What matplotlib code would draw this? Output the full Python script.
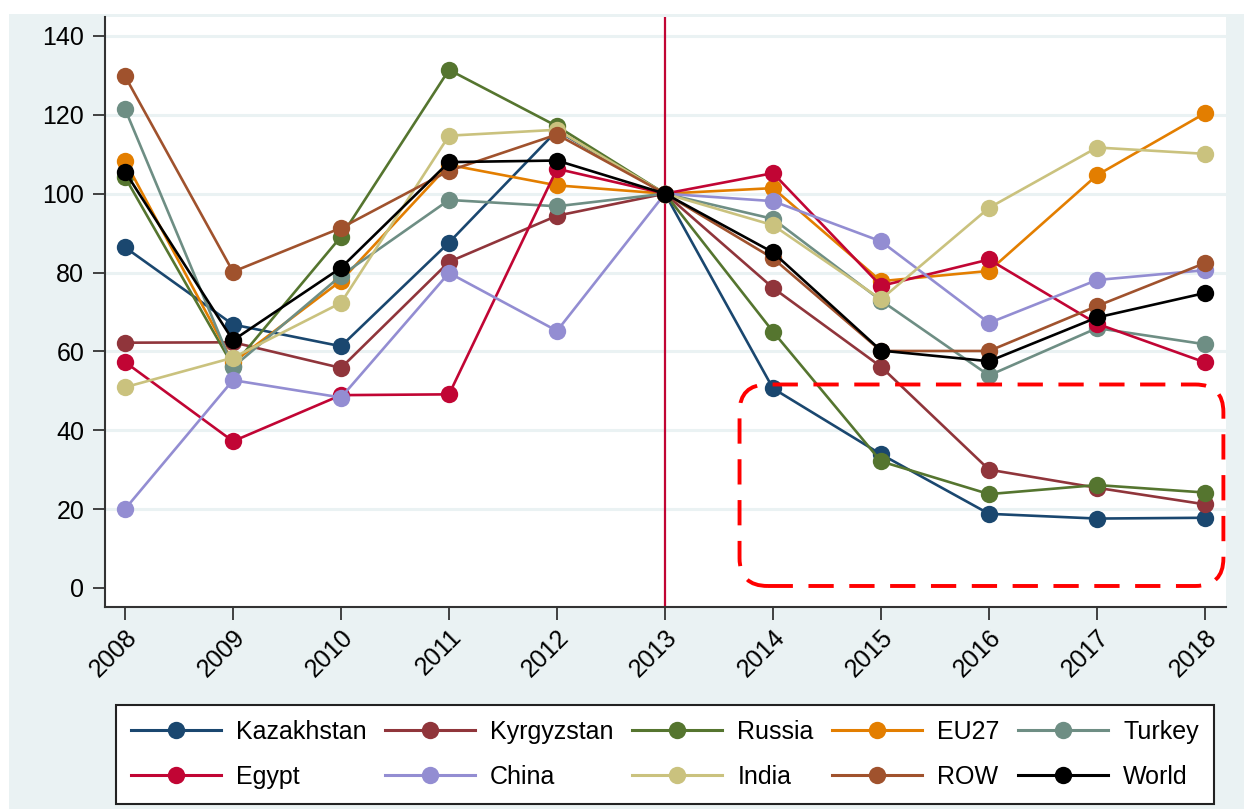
import matplotlib
matplotlib.use("Agg")
import matplotlib.pyplot as plt
from matplotlib.patches import Rectangle, FancyBboxPatch

plt.rcParams['font.family'] = ['Liberation Sans', 'DejaVu Sans']

years = [2008, 2009, 2010, 2011, 2012, 2013, 2014, 2015, 2016, 2017, 2018]

kazakhstan = [86.4, 66.8, 61.3, 87.6, 116.0, 100, 50.6, 33.9, 18.8, 17.6, 17.8]
kyrgyzstan = [62.2, 62.3, 55.8, 82.7, 94.4, 100, 76.1, 56.1, 30.0, 25.4, 21.2]
russia = [104.2, 56.3, 89.1, 131.4, 117.1, 100, 65.0, 32.1, 23.8, 26.1, 24.2]
eu27 = [108.3, 57.2, 77.9, 107.3, 102.1, 100, 101.4, 77.8, 80.4, 104.7, 120.4]
turkey = [121.5, 56.0, 79.2, 98.4, 96.8, 100, 93.6, 72.9, 53.9, 65.9, 61.8]
egypt = [57.3, 37.2, 48.9, 49.1, 106.3, 100, 105.2, 76.6, 83.3, 67.0, 57.2]
china = [20.0, 52.7, 48.3, 79.9, 65.2, 100, 98.1, 87.9, 67.2, 78.1, 80.6]
india = [50.9, 58.4, 72.3, 114.7, 116.2, 100, 92.0, 73.2, 96.4, 111.7, 110.1]
row = [129.8, 80.2, 91.3, 105.8, 115.0, 100, 83.6, 60.1, 60.1, 71.5, 82.4]
world = [105.6, 62.8, 81.2, 108.0, 108.4, 100, 85.1, 60.2, 57.5, 68.6, 74.8]

names = ["Kazakhstan", "Kyrgyzstan", "Russia", "EU27", "Turkey",
         "Egypt", "China", "India", "ROW", "World"]
series = [kazakhstan, kyrgyzstan, russia, eu27, turkey,
          egypt, china, india, row, world]
colors = ["#1a476f", "#90353b", "#55752f", "#e37e00", "#6e8e84",
          "#c10534", "#938dd2", "#cac27e", "#a0522d", "#000000"]

W, H = 1244, 809
fig = plt.figure(figsize=(W / 100, H / 100), dpi=100)
fig.patch.set_facecolor("white")

# graph region (light blue)
fig.add_artist(Rectangle((9 / W, 0), (W - 9) / W, (H - 14) / H,
                         transform=fig.transFigure, facecolor="#eaf2f3",
                         edgecolor="none", zorder=-10))

ax = fig.add_axes([105 / W, 1 - 607 / H, (1226 - 105) / W, (607 - 17) / H])
ax.set_zorder(1)
ax.set_facecolor("white")

for v in range(20, 141, 20):
    ax.axhline(v, color="#eaf2f3", lw=2.2, zorder=1)

ax.axvline(2013, color="#c10534", lw=1.6, zorder=2)

handles = []
for name, vals, c in zip(names, series, colors):
    h, = ax.plot(years, vals, color=c, lw=1.9, marker="o", markersize=12.5,
                 markeredgewidth=0, label=name, zorder=3)
    handles.append(h)

# highlight box
box = FancyBboxPatch((2013.69, 0.5), 2018.17 - 2013.69, 51.6 - 0.5,
                     boxstyle="round,pad=0,rounding_size=0.26",
                     mutation_aspect=27.0, transform=ax.transData,
                     facecolor="none", edgecolor="#ff0000", lw=2.8,
                     linestyle=(0, (6.5, 4)), zorder=4, clip_on=False)
ax.add_patch(box)

ax.set_xlim(2007.815, 2018.194)
ax.set_ylim(-4.83, 144.8)
ax.set_yticks(range(0, 141, 20))
ax.set_xticks(years)
ax.set_xticklabels([str(y) for y in years], rotation=45, ha="right",
                   rotation_mode="anchor")

for s in ["top", "right"]:
    ax.spines[s].set_visible(False)
for s in ["left", "bottom"]:
    ax.spines[s].set_color("#333333")
    ax.spines[s].set_linewidth(1.5)

ax.tick_params(axis="both", labelsize=18, color="#333333", width=1.3,
               length=9, direction="out")
ax.tick_params(axis="y", pad=6)
ax.tick_params(axis="x", pad=4)

# legend rows are filled column-wise, so reorder
order = [0, 5, 1, 6, 2, 7, 3, 8, 4, 9]
leg = fig.legend([handles[i] for i in order], [names[i] for i in order],
                 ncol=5, loc="center", mode="expand", borderaxespad=0,
                 bbox_to_anchor=(116 / W, 1 - 806 / H, (1214 - 116) / W, (806 - 703) / H),
                 fontsize=18, frameon=True, fancybox=False,
                 handlelength=3.6, handletextpad=0.6, columnspacing=0.5,
                 labelspacing=0.85, borderpad=0.6)
leg.get_frame().set_edgecolor("#222222")
leg.get_frame().set_linewidth(1.5)
leg.get_frame().set_facecolor("white")
leg.get_frame().set_alpha(1)
for lh in leg.legend_handles:
    lh.set_linewidth(2.2)

fig.savefig("out.png", dpi=100, facecolor=fig.get_facecolor())
